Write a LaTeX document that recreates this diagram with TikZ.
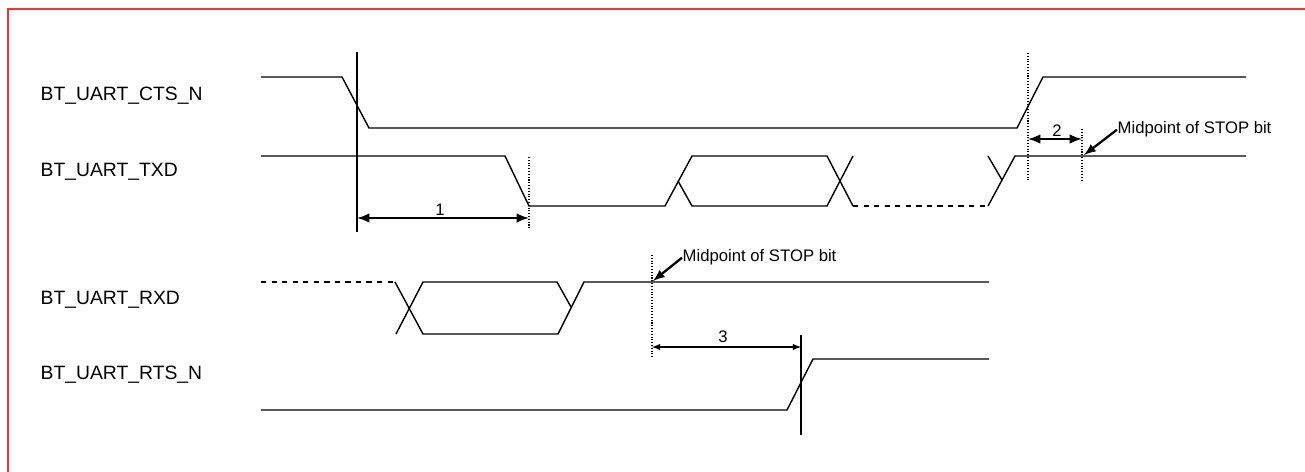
\documentclass[tikz,border=0pt]{standalone}
\usepackage{fontspec}
\setmainfont{Liberation Sans}
\usetikzlibrary{arrows}
\definecolor{frame}{RGB}{240,50,50}

\begin{document}
\begin{tikzpicture}[x=0.02cm,y=-0.02cm,line width=0.8pt,
    sig/.style={anchor=base west,inner sep=0pt,font=\fontsize{11}{13}\selectfont},
    note/.style={inner sep=0pt,font=\fontsize{9.5}{11}\selectfont},
    guide/.style={densely dotted,line width=0.6pt},
    dim/.style={latex-latex,line width=1.4pt}]
    \useasboundingbox (0,0) rectangle (1305,472);
    \draw[frame,line width=1.1pt] (8,472) -- (8,9) -- (1305,9);

    % signal names
    \foreach \name/\base in {CTS\_N/101,TXD/177,RXD/305,RTS\_N/380}{
        \draw (40,\base) node[sig] {BT\_UART\_\name};
    }

    % BT_UART_CTS_N
    \draw (261,77) -- (342,77) -- (369,128) -- (1017,128) -- (1043,77) -- (1246,77);
    \draw (357,52) -- (357,232);

    % BT_UART_TXD
    \draw (261,156) -- (505,156) -- (529,206) -- (665,206) -- (692,156) -- (827,156) -- (853,206);
    \draw (678,181) -- (692,206) -- (827,206) -- (853,156);
    \draw[dashed] (853,206) -- (988,206);
    \draw (988,206) -- (1015,156) -- (1246,156);
    \draw (988,156) -- (1002,180);
    \draw[guide] (529,157) -- (529,230);
    \draw[guide] (1028,53) -- (1028,180);
    \draw[guide] (1082,129) -- (1082,180);
    \coordinate (txstart) at (357,218);
    \coordinate (txend) at (529,218);
    \coordinate (ctsup) at (1028,139);
    \coordinate (txmid) at (1082,139);
    \draw[dim] (txstart) -- (txend);
    \draw (440,216) node[note,anchor=base] (one) {1};
    \draw[dim] (ctsup) -- (txmid);
    \draw (1057,137) node[note,anchor=base] (two) {2};
    \draw (1117,134) node[note,anchor=base west] (txstop) {Midpoint of STOP bit};
    \draw[-latex,line width=1.3pt] (txstop.west) -- (1084,155);

    % BT_UART_RXD
    \draw[dashed] (261,282) -- (395,282);
    \draw (395,282) -- (423,334) -- (558,334) -- (584,282) -- (989,282);
    \draw (396,334) -- (423,282) -- (557,282) -- (571,307);
    \draw[guide] (652,255) -- (652,358);
    \draw (682,262) node[note,anchor=base west] (rxstop) {Midpoint of STOP bit};
    \draw[-latex,line width=1.3pt] (rxstop.west) -- (653,281);

    % BT_UART_RTS_N
    \draw (261,410) -- (787,410) -- (813,359) -- (989,359);
    \draw (801,335) -- (801,435);
    \coordinate (rxmid) at (652,347);
    \coordinate (rtsup) at (801,347);
    \draw[latex-latex,line width=0.6pt] (rxmid) -- (rtsup);
    \draw (723,343) node[note,anchor=base] (three) {3};
\end{tikzpicture}
\end{document}
